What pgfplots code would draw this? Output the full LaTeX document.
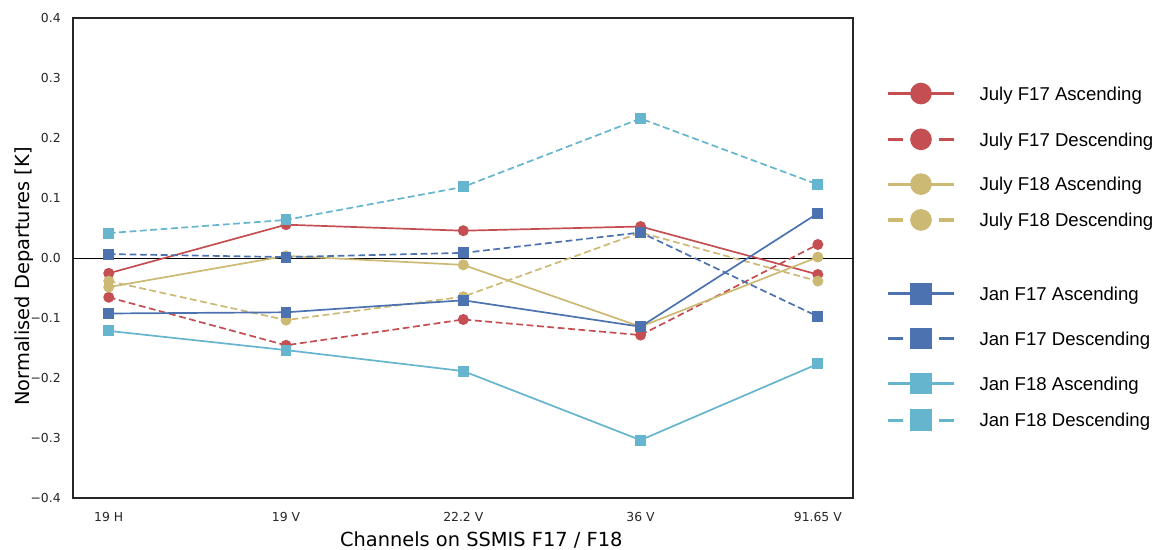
\documentclass[border=0pt]{standalone}
\usepackage{pgfplots}
\pgfplotsset{compat=1.18}
\usepackage{fontspec}
\setmainfont{DejaVu Sans}
\newfontfamily\legfont{Liberation Sans}

\definecolor{cRed}{HTML}{C44E52}
\definecolor{cTan}{HTML}{CCB974}
\definecolor{cBlue}{HTML}{4C72B0}
\definecolor{cCyan}{HTML}{64B5CD}
\definecolor{axgray}{HTML}{262626}

% legend row strut: height above the text baseline (sets the gap to the row above)
\newcommand{\rowstrut}[1]{\vrule height #1 depth 0pt width 0pt\relax}

\pgfplotsset{
  ser/.style={line width=0.85pt, mark size=2.3pt, mark options={solid}},
  dsh/.style={dash pattern=on 3.4pt off 1.8pt},
  leg/.style={line width=1.6pt, mark size=4.6pt, mark options={solid},
    legend image code/.code={%
      \draw[mark repeat=2,mark phase=2] plot coordinates {(-1pt,3.4pt) (15.5pt,3.4pt) (32pt,3.4pt)};}},
  legdsh/.style={dash pattern=on 7.5pt off 18pt},
}

\begin{document}
\begin{tikzpicture}
\path[use as bounding box] (-36.65pt,-25.85pt) rectangle (541.35pt,249.15pt);
\begin{axis}[
  scale only axis, width=390pt, height=240pt,
  xmin=-0.2, xmax=4.2, ymin=-0.4, ymax=0.4,
  xtick={0,1,2,3,4},
  xticklabels={19 H,19 V,22.2 V,36 V,91.65 V},
  ytick={-0.4,-0.3,-0.2,-0.1,0,0.1,0.2,0.3,0.4},
  yticklabels={−0.4,−0.3,−0.2,−0.1,0.0,0.1,0.2,0.3,0.4},
  major tick length=0pt,
  axis line style={draw=axgray, line width=0.9pt},
  tick label style={font=\fontsize{6.2}{7}\selectfont, text=axgray, inner sep=0pt},
  xticklabel style={anchor=center, yshift=-9.4pt},
  yticklabel style={anchor=east, xshift=-6.1pt},
  label style={font=\fontsize{9.7}{11}\selectfont, text=black},
  xlabel={Channels on SSMIS F17 / F18},
  ylabel={Normalised Departures [K]},
  xlabel style={at={(axis description cs:0.523,-0.0875)}, anchor=center},
  ylabel style={at={(axis description cs:-0.0630,0.462)}, anchor=center},
  legend cell align=left,
  legend style={draw=none, fill=none, at={(axis description cs:1.0419,0.891)},
    anchor=north west, inner sep=0pt, row sep=0pt,
    font=\legfont\fontsize{9.3}{10}\selectfont,
    nodes={inner sep=0pt},
    cells={anchor=base west},
    /tikz/every odd column/.append style={column sep=12pt}},
]
% zero reference line
\addplot[black, line width=0.6pt, forget plot] coordinates {(-0.2,0) (4.2,0)};

% July (circles)
\addplot[ser, cRed, mark=*, forget plot] coordinates {
  (0,-0.025) (1,0.056) (2,0.046) (3,0.053) (4,-0.027)};
\addplot[ser, dsh, cRed, mark=*, forget plot] coordinates {
  (0,-0.065) (1,-0.145) (2,-0.102) (3,-0.128) (4,0.023)};
\addplot[ser, cTan, mark=*, forget plot] coordinates {
  (0,-0.048) (1,0.004) (2,-0.011) (3,-0.114) (4,0.002)};
\addplot[ser, dsh, cTan, mark=*, forget plot] coordinates {
  (0,-0.038) (1,-0.103) (2,-0.064) (3,0.043) (4,-0.038)};

% January (squares)
\addplot[ser, cBlue, mark=square*, forget plot] coordinates {
  (0,-0.092) (1,-0.090) (2,-0.070) (3,-0.114) (4,0.075)};
\addplot[ser, dsh, cBlue, mark=square*, forget plot] coordinates {
  (0,0.007) (1,0.002) (2,0.009) (3,0.043) (4,-0.097)};
\addplot[ser, cCyan, mark=square*, forget plot] coordinates {
  (0,-0.121) (1,-0.153) (2,-0.188) (3,-0.303) (4,-0.176)};
\addplot[ser, dsh, cCyan, mark=square*, forget plot] coordinates {
  (0,0.042) (1,0.064) (2,0.119) (3,0.233) (4,0.123)};

\addlegendimage{leg, cRed, mark=*}
\addlegendentry{\rowstrut{14.65pt}July F17 Ascending}
\addlegendimage{leg, legdsh, cRed, mark=*}
\addlegendentry{\rowstrut{21.4pt}July F17 Descending}
\addlegendimage{leg, cTan, mark=*}
\addlegendentry{\rowstrut{20.9pt}July F18 Ascending}
\addlegendimage{leg, legdsh, cTan, mark=*}
\addlegendentry{\rowstrut{16.4pt}July F18 Descending}
\addlegendimage{leg, cBlue, mark=square*}
\addlegendentry{\rowstrut{35.4pt}Jan F17 Ascending}
\addlegendimage{leg, legdsh, cBlue, mark=square*}
\addlegendentry{\rowstrut{20.9pt}Jan F17 Descending}
\addlegendimage{leg, cCyan, mark=square*}
\addlegendentry{\rowstrut{20.9pt}Jan F18 Ascending}
\addlegendimage{leg, legdsh, cCyan, mark=square*}
\addlegendentry{\rowstrut{16.9pt}Jan F18 Descending}
\end{axis}
\end{tikzpicture}
\end{document}
